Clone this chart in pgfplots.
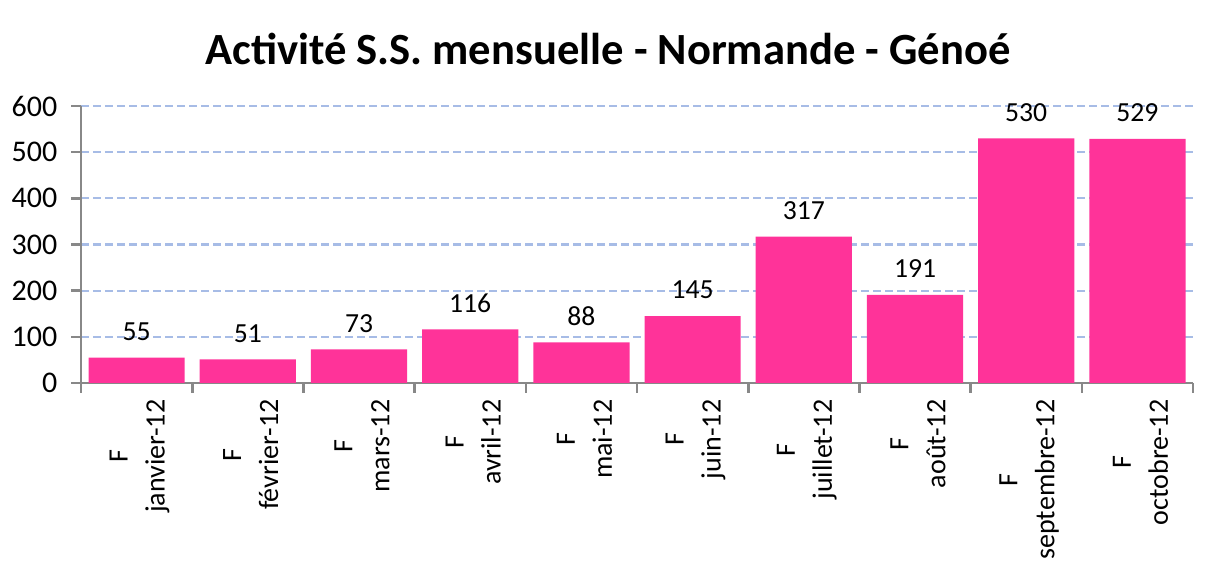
\documentclass[border=0pt]{standalone}
\usepackage{pgfplots}
\pgfplotsset{compat=1.18}
\usepackage{fontspec}
\setmainfont{Carlito}
\definecolor{barpink}{HTML}{FF3399}
\definecolor{gridblue}{HTML}{A7BCE6}
\definecolor{axgray}{HTML}{888888}
\begin{document}
\begin{tikzpicture}
\begin{axis}[
  scale only axis,
  width=556pt, height=138.5pt,
  xmin=-0.5, xmax=9.5,
  ymin=0, ymax=600,
  ytick={0,100,...,600},
  xtick={-0.5,0.5,...,9.5},
  x tick label as interval,
  xticklabels={{F\\janvier-12},{F\\février-12},{F\\mars-12},{F\\avril-12},{F\\mai-12},{F\\juin-12},{F\\juillet-12},{F\\août-12},{F\\septembre-12},{F\\octobre-12}},
  axis x line*=bottom, axis y line*=left,
  axis line style={axgray, line width=1.3pt, -},
  tick style={axgray, line width=1.3pt},
  tick align=outside,
  major tick length=4.8pt,
  ymajorgrids,
  grid style={gridblue, line width=1.1pt, dash pattern=on 4pt off 2pt},
  /pgf/number format/assume math mode=true,
  yticklabel style={font=\fontsize{15}{18}\selectfont, xshift=-3.5pt},
  xticklabel style={font=\fontsize{14}{18.5}\selectfont, rotate=90, anchor=east, align=center, yshift=-1.5pt},
  ybar, bar width=0.865,
  nodes near coords,
  every node near coord/.append style={font=\fontsize{13.8}{16}\selectfont, black, anchor=south, yshift=5pt},
  title={Activité S.S. mensuelle - Normande - Génoé},
  title style={font=\fontsize{22.3}{26}\selectfont\bfseries, yshift=11pt, xshift=-14.5pt},
  clip=false,
]
\addplot[fill=barpink, draw=none] coordinates {(0,55) (1,51) (2,73) (3,116) (4,88) (5,145) (6,317) (7,191) (8,530) (9,529)};
\end{axis}
\pgfresetboundingbox
\path[use as bounding box] ([shift={(-40.5pt,-94.5pt)}]current axis.south west) rectangle ([shift={(12.5pt,53pt)}]current axis.north east);
\end{tikzpicture}
\end{document}
